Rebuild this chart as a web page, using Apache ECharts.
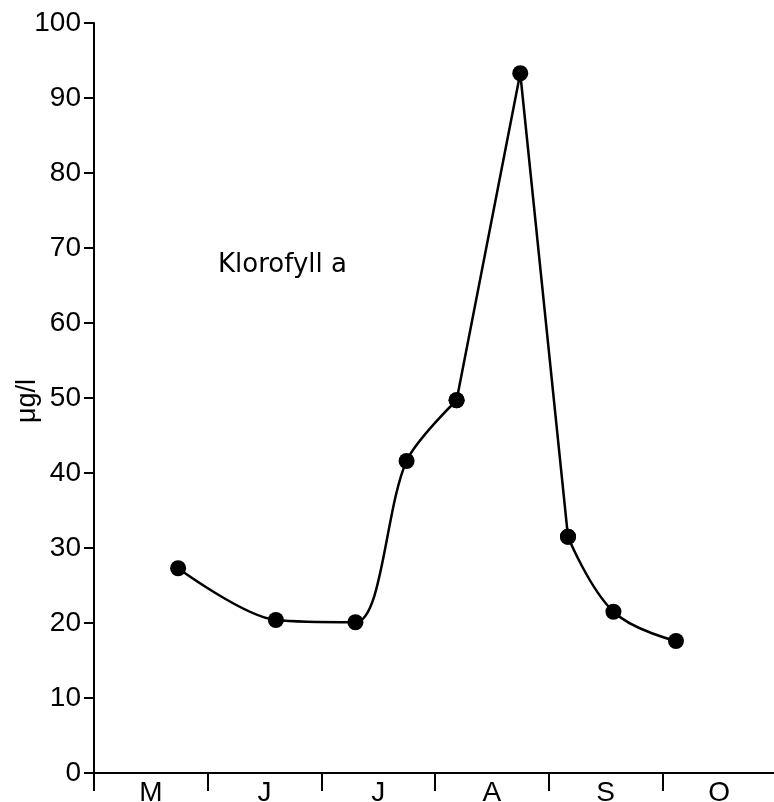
<!DOCTYPE html>
<html>
<head>
<meta charset="utf-8">
<script src="https://cdn.jsdelivr.net/npm/echarts@6/dist/echarts.min.js"></script>
<style>
html,body{margin:0;padding:0;background:#fff;}
#c{width:774px;height:802px;}
</style>
</head>
<body>
<div id="c"></div>
<script>
const months = ['M', 'J', 'J', 'A', 'S', 'O'];
const sampleTimes = [0.74, 1.60, 2.30, 2.75, 3.19, 3.75, 4.17, 4.57, 5.12];
const chlorophyll = [27.3, 20.4, 20.1, 41.6, 49.7, 93.3, 31.5, 21.5, 17.6];
const yTicks = [0, 10, 20, 30, 40, 50, 60, 70, 80, 90, 100];
const seriesLabel = 'Klorofyll a';
const yUnit = 'μg/l';

const points = sampleTimes.map((t, i) => [t, chlorophyll[i]]);
const font = 'Liberation Sans, Arial, Helvetica, sans-serif';
const wideFont = 'DejaVu Sans, Liberation Sans, sans-serif';

// curve pieces: [first index, last index, smoothing]
const pieces = [[0, 4, 0.3], [4, 6, 0], [6, 8, 0.4]];

const lineSeries = pieces.map(([a, b, s]) => ({
  type: 'line', xAxisIndex: 0, data: points.slice(a, b + 1),
  smooth: s,
  symbol: 'circle', symbolSize: 16,
  itemStyle: {color: '#000'},
  lineStyle: {color: '#000', width: 2.5},
  z: 3
}));

const chart = echarts.init(document.getElementById('c'), null, {renderer: 'canvas'});
chart.setOption({
  backgroundColor: '#ffffff',
  animation: false,
  grid: {left: 94, top: 23, width: 682, height: 750, containLabel: false, outerBoundsMode: 'none'},
  xAxis: [
    {
      type: 'value', min: 0, max: months.length, interval: 1,
      axisLine: {show: true, lineStyle: {color: '#000', width: 2}},
      axisTick: {show: true, length: 18, lineStyle: {color: '#000', width: 2}},
      axisLabel: {show: false},
      splitLine: {show: false}
    },
    {
      type: 'category', data: months, position: 'bottom', boundaryGap: true,
      axisLine: {show: false}, axisTick: {show: false}, splitLine: {show: false},
      axisLabel: {show: true, color: '#000', fontSize: 28, fontFamily: font, margin: 6}
    }
  ],
  yAxis: {
    type: 'value', min: yTicks[0], max: yTicks[yTicks.length - 1], interval: 10,
    axisLine: {show: true, lineStyle: {color: '#000', width: 2}},
    axisTick: {show: true, length: 10, lineStyle: {color: '#000', width: 2}},
    axisLabel: {color: '#000', fontSize: 28, fontFamily: font, margin: 13},
    splitLine: {show: false}
  },
  graphic: [
    {
      type: 'text', left: 218, top: 252,
      style: {text: seriesLabel, fill: '#000', font: '26px ' + wideFont}
    },
    {
      type: 'text', x: 28, y: 401, rotation: Math.PI / 2,
      style: {text: yUnit, fill: '#000', font: '27px ' + font, align: 'center', verticalAlign: 'middle'}
    }
  ],
  series: lineSeries
});
</script>
</body>
</html>
